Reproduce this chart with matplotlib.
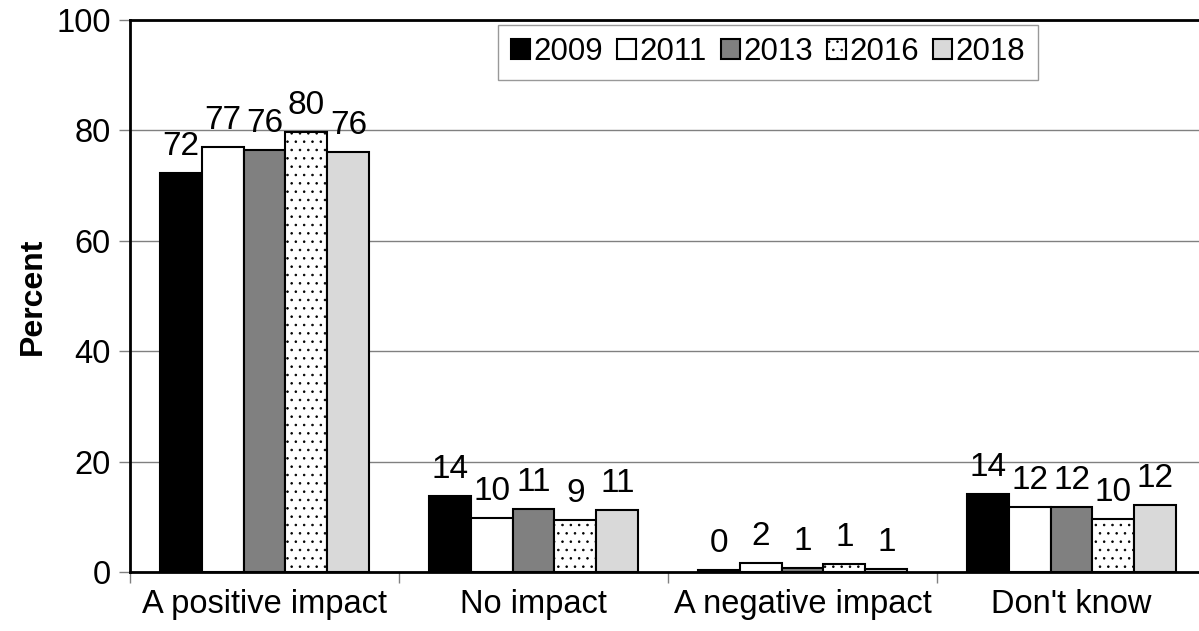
import numpy as np
import matplotlib
matplotlib.use("Agg")
from matplotlib import pyplot as plt

plt.rcParams['font.family'] = ['Liberation Sans', 'DejaVu Sans']
plt.rcParams['hatch.linewidth'] = 0.6
plt.rcParams['hatch.color'] = '#303030'

categories = ["A positive impact", "No impact", "A negative impact", "Don't know"]
years = ["2009", "2011", "2013", "2016", "2018"]

v2009 = [72.2, 13.8, 0.4, 14.2]
v2011 = [77.0, 9.8, 1.6, 11.8]
v2013 = [76.4, 11.4, 0.7, 11.8]
v2016 = [79.7, 9.4, 1.4, 9.6]
v2018 = [76.1, 11.3, 0.6, 12.1]

values = [v2009, v2011, v2013, v2016, v2018]
colors = ["black", "white", "#808080", "white", "#d9d9d9"]
hatches = [None, None, None, "..", None]

fig = plt.figure(figsize=(11.99, 6.31), dpi=100)
ax = fig.add_axes([130 / 1199, 59 / 631, 1076 / 1199, 552 / 631])

x = np.arange(len(categories))
w = 0.156
for i in range(len(years)):
    pos = x + (i - 2) * w
    bars = ax.bar(pos, values[i], w, color=colors[i], edgecolor="black",
                  linewidth=1.5, hatch=hatches[i], label=years[i], zorder=3)
    for b, v in zip(bars, values[i]):
        ax.annotate("%.0f" % v, (b.get_x() + b.get_width() / 2, v),
                    xytext=(0, 13), textcoords="offset points",
                    ha="center", va="baseline", fontsize=24)

ax.set_xlim(-0.5, 3.5)
ax.set_ylim(0, 100)
ax.set_yticks([0, 20, 40, 60, 80, 100])
ax.yaxis.grid(True, color="#808080", linewidth=1)
ax.set_axisbelow(True)

ax.set_xticks(x)
ax.set_xticklabels(categories, fontsize=23.5)
ax.set_xticks([-0.5, 0.5, 1.5, 2.5, 3.5], minor=True)
ax.tick_params(axis="x", which="major", length=0, pad=12)
ax.tick_params(axis="x", which="minor", length=8, color="#808080", width=1)
ax.tick_params(axis="y", length=8, color="#808080", width=1, labelsize=23.5, pad=6)

ax.set_ylabel("Percent", fontsize=23, fontweight="bold", labelpad=6)

for s in ["left", "bottom", "top"]:
    ax.spines[s].set_color("black")
    ax.spines[s].set_linewidth(2)
ax.spines["right"].set_visible(False)

leg = ax.legend(loc="center", bbox_to_anchor=(0.593, 0.942), ncol=5,
                fontsize=22.5, frameon=True, fancybox=False,
                handlelength=0.6, handleheight=0.6, handletextpad=0.12,
                columnspacing=0.45, borderpad=0.4, borderaxespad=0,
                edgecolor="#808080")
leg.get_frame().set_linewidth(1)

plt.savefig("out.png", dpi=100)
